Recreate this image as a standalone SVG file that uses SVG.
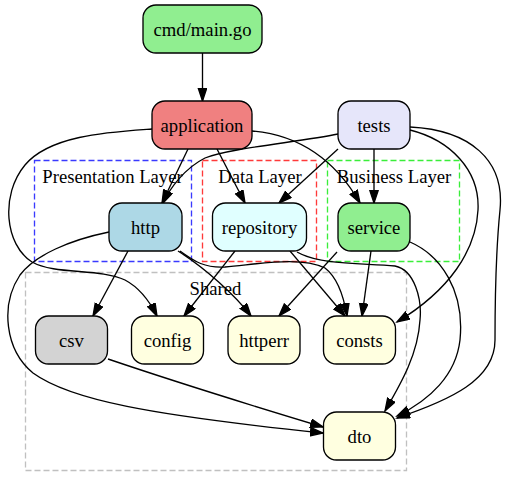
<svg xmlns="http://www.w3.org/2000/svg" width="512" height="487" viewBox="0 0 512 487">
<style>
.n rect{stroke:#000;stroke-width:1.33}
text{font-family:"Liberation Serif","Times New Roman",serif;font-size:18.67px;fill:#000;text-anchor:middle}
.cl{fill:none;stroke-width:1.33;stroke-dasharray:6,3}
#edges path{fill:none;stroke:#000;stroke-width:1.33;marker-end:url(#ah)}
</style>
<defs>
<marker id="ah" markerUnits="userSpaceOnUse" markerWidth="15" markerHeight="11" refX="13" refY="4.67" orient="auto">
<path d="M0.5,0.5 L13,4.67 L0.5,8.83 z" fill="#000" stroke="#000" stroke-width="1.33"/>
</marker>
</defs>
<rect width="512" height="487" fill="#fff"/>
<g id="cluster-presentation">
<rect class="cl" x="34.5" y="160.5" width="157" height="101" stroke="#3a3aff"/>
<text x="112.5" y="183">Presentation Layer</text>
</g>
<g id="cluster-data">
<rect class="cl" x="202.5" y="160.5" width="114" height="101" stroke="#ff3a3a"/>
<text x="260" y="183">Data Layer</text>
</g>
<g id="cluster-business">
<rect class="cl" x="327.5" y="160.5" width="132" height="101" stroke="#3aee3a"/>
<text x="394" y="183">Business Layer</text>
</g>
<g id="cluster-shared">
<rect class="cl" x="25.5" y="272.5" width="381" height="198" stroke="#c0c0c0"/>
<text x="215.5" y="295">Shared</text>
</g>
<g id="edges">
<path d="M202.5,53 L202.5,101"/>
<path d="M188,149 L162,203"/>
<path d="M217,149 L245,203"/>
<path d="M252,131 C300,135 335,160 360,203"/>
<path d="M152,129 C110,132 50,135 25,165 C0,195 5,245 32,262 C55,275 100,268 125,280 C140,288 150,302 157,316"/>
<path d="M338,134 C300,142 230,148 205,158 C185,168 170,188 163,203"/>
<path d="M338,149 L279,203"/>
<path d="M374,149 L374,203"/>
<path d="M410,130 C450,140 480,170 478,210 C476,250 450,290 397,322"/>
<path d="M410,127 C470,130 505,160 500,210 C495,260 495,310 495,340 C495,380 450,400 397,418"/>
<path d="M128,251 L93,316"/>
<path d="M178,251 C205,268 235,295 251,316"/>
<path d="M180,251 C195,262 205,268 225,267 C260,264 300,256 325,268 C338,278 344,298 347,316"/>
<path d="M109,232 C70,240 35,255 20,275 C0,305 5,350 33,373 C70,400 150,415 323,433"/>
<path d="M235,251 L184,316"/>
<path d="M290,251 L345,316"/>
<path d="M297,252 C320,265 360,263 395,266 C415,270 422,300 420,320 C418,355 400,385 385,411"/>
<path d="M337,252 L279,316"/>
<path d="M371,251 L362,316"/>
<path d="M410,242 C440,255 465,290 460,340 C456,375 430,400 397,416"/>
<path d="M108,359 C170,380 250,405 323,427"/>
</g>
<g id="node-cmd" class="n"><rect x="143" y="5" width="119" height="48" rx="13" fill="#90ee90"/><text x="202.5" y="35.5">cmd/main.go</text></g>
<g id="node-application" class="n"><rect x="152" y="101" width="100" height="48" rx="13" fill="#f08080"/><text x="202" y="131.5">application</text></g>
<g id="node-tests" class="n"><rect x="338" y="101" width="72" height="48" rx="13" fill="#e6e6fa"/><text x="374" y="131.5">tests</text></g>
<g id="node-http" class="n"><rect x="109" y="203" width="73" height="48" rx="13" fill="#add8e6"/><text x="145.5" y="233.5">http</text></g>
<g id="node-repository" class="n"><rect x="212.5" y="203" width="94" height="48" rx="13" fill="#e0ffff"/><text x="259.5" y="233.5">repository</text></g>
<g id="node-service" class="n"><rect x="338" y="203" width="72" height="48" rx="13" fill="#90ee90"/><text x="374" y="233.5">service</text></g>
<g id="node-csv" class="n"><rect x="35.5" y="316" width="72" height="48" rx="13" fill="#d3d3d3"/><text x="71.5" y="346.5">csv</text></g>
<g id="node-config" class="n"><rect x="131.5" y="316" width="72" height="48" rx="13" fill="#ffffe0"/><text x="167.5" y="346.5">config</text></g>
<g id="node-httperr" class="n"><rect x="228" y="316" width="72" height="48" rx="13" fill="#ffffe0"/><text x="264" y="346.5">httperr</text></g>
<g id="node-consts" class="n"><rect x="323.5" y="316" width="72" height="48" rx="13" fill="#ffffe0"/><text x="359.5" y="346.5">consts</text></g>
<g id="node-dto" class="n"><rect x="323.5" y="412" width="72" height="48" rx="13" fill="#ffffe0"/><text x="359.5" y="442.5">dto</text></g>
</svg>
